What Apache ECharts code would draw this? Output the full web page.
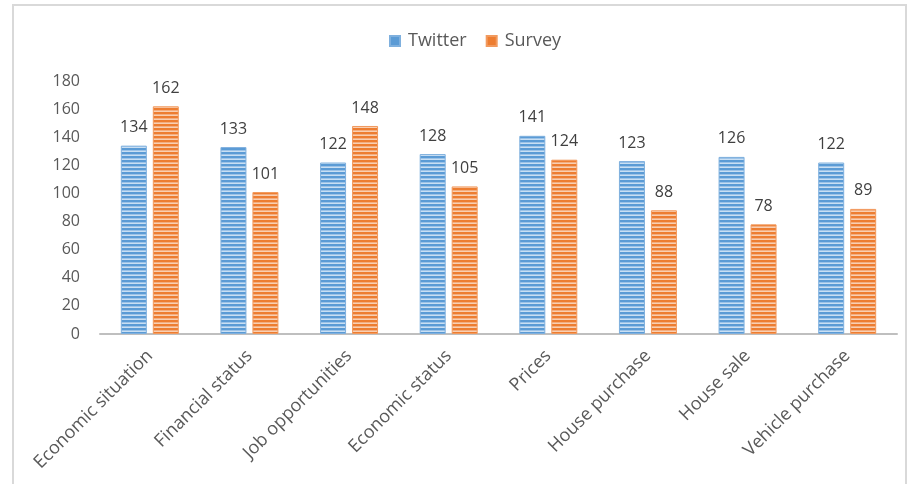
<!DOCTYPE html>
<html><head><meta charset="utf-8">
<script src="https://cdn.jsdelivr.net/npm/echarts@6/dist/echarts.min.js"></script>
<style>html,body{margin:0;padding:0;background:#fff}#c{width:909px;height:484px}</style>
</head><body><div id="c"></div>
<script>
const categories = ["Economic situation","Financial status","Job opportunities","Economic status","Prices","House purchase","House sale","Vehicle purchase"];
const twitter = [134,133,122,128,141,123,126,122];
const survey = [162,101,148,105,124,88,78,89];
const yTicks = [0,20,40,60,80,100,120,140,160,180];

function stripes(base, light, lighter){
  const c = document.createElement('canvas');
  c.width = 4; c.height = 4;
  const g = c.getContext('2d');
  g.fillStyle = base; g.fillRect(0,0,4,2);
  g.fillStyle = light; g.fillRect(0,2,4,1);
  g.fillStyle = lighter; g.fillRect(0,3,4,1);
  return c;
}
const blueP = stripes('#5b9bd5','#9cc3e8','#c9dff3');
const orangeP = stripes('#ed7d31','#f4ae80','#f8cfb2');
const FONT = '"Open Sans", sans-serif';
const chart = echarts.init(document.getElementById('c'));
chart.setOption({
  animation:false,
  graphic:[{type:'rect',shape:{x:13,y:5,width:893,height:500},style:{fill:'none',stroke:'#d9d9d9',lineWidth:2},silent:true}],
  legend:{top:27,left:384,itemWidth:10,itemHeight:10,itemGap:19,icon:'rect',
    textStyle:{color:'#595959',fontSize:18,fontFamily:FONT,padding:[0,0,0,3]},
    data:[{name:'Twitter',itemStyle:{color:'#5b9bd5'}},{name:'Survey',itemStyle:{color:'#ed7d31'}}]},
  grid:{left:100,right:12,top:81,bottom:150},
  xAxis:{type:'category',data:categories,
    axisLine:{lineStyle:{color:'#bfbfbf',width:2}},axisTick:{show:false},
    axisLabel:{rotate:45,interval:0,color:'#595959',fontSize:18,fontFamily:FONT,margin:19}},
  yAxis:{type:'value',min:yTicks[0],max:yTicks[yTicks.length-1],interval:20,
    axisLine:{show:false},axisTick:{show:false},splitLine:{show:false},
    axisLabel:{color:'#595959',fontSize:16,fontFamily:FONT,margin:20}},
  series:[
    {name:'Twitter',type:'bar',data:twitter,barWidth:26,barGap:'23%',
     itemStyle:{color:{image:blueP,repeat:'repeat'},borderColor:'#7fb0de',borderWidth:1},
     label:{show:true,position:'top',distance:10,color:'#404040',fontSize:16,fontFamily:FONT}},
    {name:'Survey',type:'bar',data:survey,barWidth:26,
     itemStyle:{color:{image:orangeP,repeat:'repeat'},borderColor:'#f29a5e',borderWidth:1},
     label:{show:true,position:'top',distance:10,color:'#404040',fontSize:16,fontFamily:FONT}}
  ]
});
</script></body></html>
